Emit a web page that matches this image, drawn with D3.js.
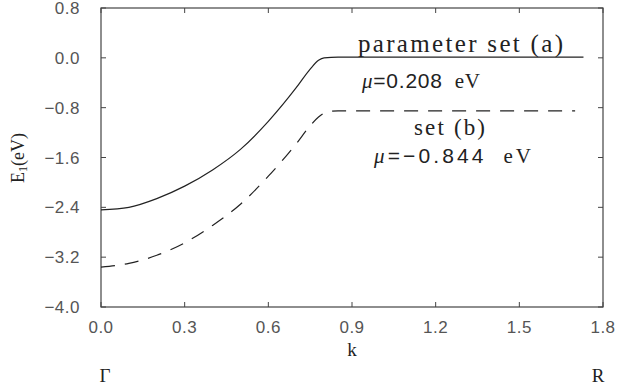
<!DOCTYPE html>
<html>
<head>
<meta charset="utf-8">
<script src="https://cdn.jsdelivr.net/npm/d3@7"></script>
<style>
  html, body { margin: 0; padding: 0; background: #fff; }
  #chart { width: 618px; height: 385px; }
  .tick-lbl { font-family: "Liberation Sans", Arial, sans-serif; font-size: 17px; fill: #555; letter-spacing: 0.5px; }
  .serif { font-family: "Liberation Serif", "DejaVu Serif", serif; fill: #222; }
</style>
</head>
<body>
<div id="chart"></div>
<script>
// band E1(k) along Gamma -> R, two parameter sets
const kA = [0, 0.1, 0.2, 0.3, 0.4, 0.5, 0.6, 0.7, 0.75, 0.78, 0.8, 0.85, 1.0, 1.3, 1.73];
const eA = [-2.44, -2.40, -2.26, -2.06, -1.80, -1.47, -1.02, -0.48, -0.18, -0.04, 0.0, 0.01, 0.01, 0.01, 0.01];
const kB = [0, 0.1, 0.2, 0.3, 0.4, 0.5, 0.6, 0.7, 0.75, 0.78, 0.81, 0.85, 1.0, 1.3, 1.70];
const eB = [-3.36, -3.30, -3.17, -2.97, -2.69, -2.35, -1.90, -1.38, -1.09, -0.95, -0.87, -0.85, -0.85, -0.85, -0.85];
const xTicks = [0, 0.3, 0.6, 0.9, 1.2, 1.5, 1.8];
const yTicks = [0.8, 0, -0.8, -1.6, -2.4, -3.2, -4.0];

function drawChart() {
  const W = 618, H = 385;
  const m = { top: 8, right: 15, bottom: 78, left: 101 };
  const w = W - m.left - m.right, h = H - m.top - m.bottom;

  const svg = d3.select('#chart').append('svg')
    .attr('width', W).attr('height', H);
  const g = svg.append('g').attr('transform', `translate(${m.left},${m.top})`);

  const x = d3.scaleLinear().domain([0, 1.8]).range([0, w]);
  const y = d3.scaleLinear().domain([-4.0, 0.8]).range([h, 0]);
  const fmt = d => (d < 0 ? '\u2212' : '') + Math.abs(d).toFixed(1);

  // frame
  g.append('rect').attr('width', w).attr('height', h)
    .attr('fill', 'none').attr('stroke', '#444').attr('stroke-width', 1.2);

  // inward ticks on all four sides
  const tl = 5;
  g.selectAll('.tb').data(xTicks).join('line')
    .attr('x1', d => x(d)).attr('x2', d => x(d)).attr('y1', h).attr('y2', h - tl)
    .attr('stroke', '#444');
  g.selectAll('.tt').data(xTicks).join('line')
    .attr('x1', d => x(d)).attr('x2', d => x(d)).attr('y1', 0).attr('y2', tl)
    .attr('stroke', '#444');
  g.selectAll('.tlft').data(yTicks).join('line')
    .attr('x1', 0).attr('x2', tl).attr('y1', d => y(d)).attr('y2', d => y(d))
    .attr('stroke', '#444');
  g.selectAll('.trgt').data(yTicks).join('line')
    .attr('x1', w).attr('x2', w - tl).attr('y1', d => y(d)).attr('y2', d => y(d))
    .attr('stroke', '#444');

  // tick labels
  g.selectAll('.xl').data(xTicks).join('text')
    .attr('class', 'tick-lbl').attr('x', d => x(d)).attr('y', h + 26)
    .attr('text-anchor', 'middle').text(d => d.toFixed(1));
  g.selectAll('.yl').data(yTicks).join('text')
    .attr('class', 'tick-lbl').attr('x', -21).attr('y', d => y(d) + 6)
    .attr('text-anchor', 'end').text(fmt);

  // axis labels
  svg.append('text').attr('class', 'serif').attr('font-size', '19px')
    .attr('x', m.left + x(0.9)).attr('y', 356).attr('text-anchor', 'middle').text('k');
  svg.append('text').attr('class', 'serif').attr('font-size', '19px')
    .attr('x', m.left + x(0) + 4).attr('y', 382).attr('text-anchor', 'middle').text('\u0393');
  svg.append('text').attr('class', 'serif').attr('font-size', '19px')
    .attr('x', m.left + x(1.8) - 5).attr('y', 382).attr('text-anchor', 'middle').text('R');

  const yl = svg.append('text').attr('class', 'serif').attr('font-size', '18px')
    .attr('transform', 'translate(24,158) rotate(-90)').attr('text-anchor', 'middle');
  yl.append('tspan').text('E');
  yl.append('tspan').attr('font-size', '12px').attr('dy', 3).text('1');
  yl.append('tspan').attr('dy', -3).text('(eV)');

  // curves
  const line = d3.line().x(d => x(d[0])).y(d => y(d[1])).curve(d3.curveMonotoneX);
  g.append('path').datum(d3.zip(kA, eA)).attr('d', line)
    .attr('fill', 'none').attr('stroke', '#222').attr('stroke-width', 1.2);
  g.append('path').datum(d3.zip(kB, eB)).attr('d', line)
    .attr('fill', 'none').attr('stroke', '#222').attr('stroke-width', 1.2)
    .attr('stroke-dasharray', '14,10');

  // annotations
  const note = (px, py, len, size, parts) => {
    const t = svg.append('text').attr('class', 'serif').style('font-size', size)
      .attr('x', px).attr('y', py).attr('textLength', len).attr('lengthAdjust', 'spacing');
    parts.forEach(p => {
      const s = t.append('tspan').text(p.t);
      if (p.i) s.style('font-style', 'italic');
      if (p.sans) s.style('font-family', '"Liberation Sans", Arial, sans-serif');
    });
  };
  note(358, 52, 205, '25px', [{ t: 'parameter set (a)' }]);
  note(362, 88, 118, '21px', [{ t: '\u03bc', i: true }, { t: '=0.208', sans: true }, { t: '\u00a0\u00a0eV' }]);
  note(414, 135, 71, '23px', [{ t: 'set (b)' }]);
  note(374, 163, 157, '21px', [{ t: '\u03bc', i: true }, { t: '=\u22120.844', sans: true }, { t: '\u00a0\u00a0eV' }]);
}

drawChart();
</script>
</body>
</html>
